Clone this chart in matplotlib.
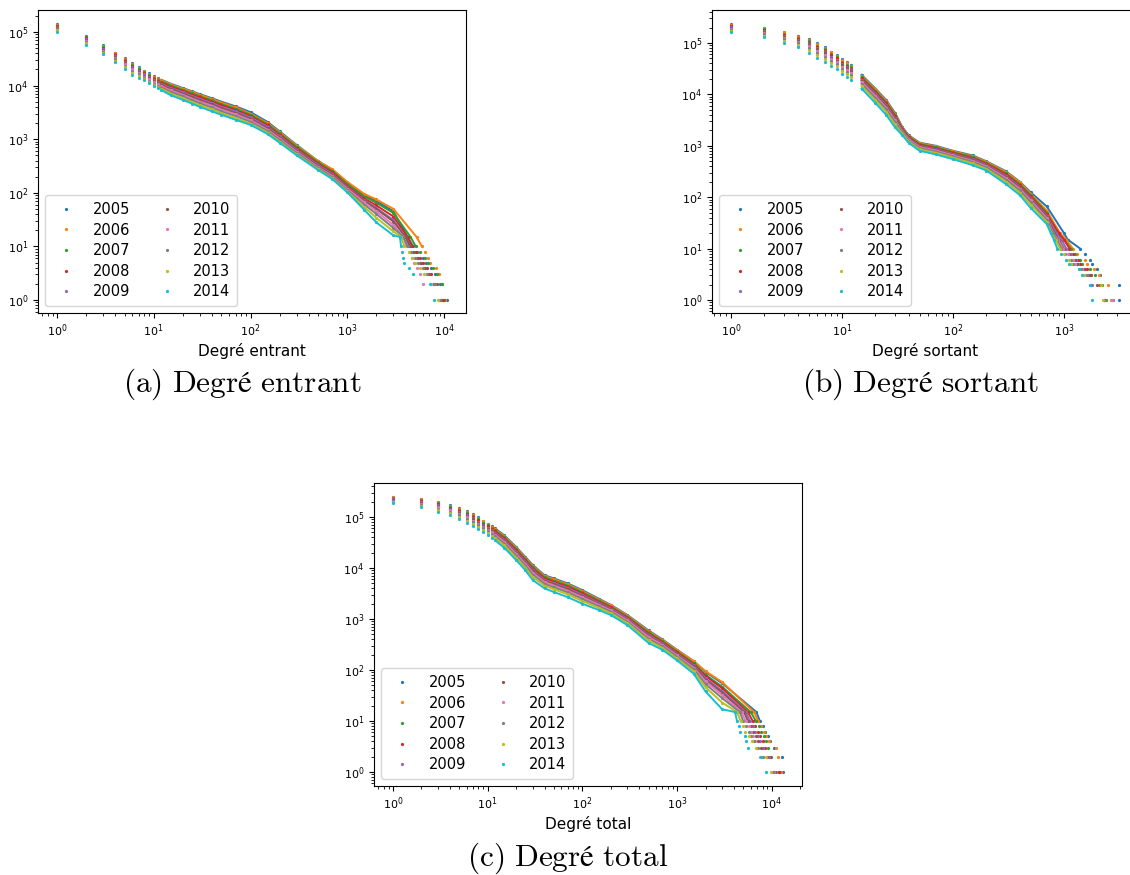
import numpy as np
import matplotlib
matplotlib.use("Agg")
import matplotlib.pyplot as plt

# ─────────────────────────────────────────────
# Data (CCDF per year)
# ─────────────────────────────────────────────
YEARS = [2005, 2006, 2007, 2008, 2009, 2010, 2011, 2012, 2013, 2014]
COLORS = ["#1f77b4", "#ff7f0e", "#2ca02c", "#d62728", "#9467bd",
          "#8c564b", "#e377c2", "#7f7f7f", "#bcbd22", "#17becf"]

# (a) in-degree
IN_DEG = [1, 2, 3, 4, 5, 6, 7, 8, 9, 10, 11, 12, 15, 20, 25, 30, 40, 50,
          70, 100, 150, 200, 300, 500, 700, 1000, 1500, 2000, 3000]
IN_COUNTS = [
    [140000, 84000, 56000, 41000, 32000, 26000, 22000, 19000, 17000, 15000, 13800, 12800, 10800, 9000, 7800, 6900, 5800, 5000, 4100, 3200, 2100, 1400, 780, 390, 270, 155, 90, 70, 45],
    [136000, 82000, 55000, 40000, 31000, 25500, 21500, 18600, 16500, 14700, 13500, 12500, 10500, 8800, 7600, 6700, 5600, 4800, 3900, 3000, 2000, 1350, 760, 390, 275, 160, 95, 75, 50],
    [132000, 79000, 53000, 38500, 30000, 24500, 20500, 17800, 15800, 14000, 12900, 11900, 10000, 8300, 7200, 6300, 5300, 4500, 3700, 2850, 1900, 1280, 720, 370, 255, 145, 85, 65, 42],
    [128000, 76000, 51000, 37000, 28500, 23200, 19500, 16900, 15000, 13300, 12200, 11300, 9500, 7900, 6800, 6000, 5000, 4300, 3500, 2700, 1800, 1200, 680, 350, 240, 135, 78, 58, 36],
    [124000, 73000, 49000, 35500, 27300, 22000, 18600, 16100, 14300, 12700, 11600, 10700, 9000, 7500, 6400, 5600, 4700, 4000, 3300, 2550, 1700, 1130, 640, 330, 225, 127, 72, 52, 31],
    [120000, 70000, 47000, 34000, 26000, 21000, 17800, 15300, 13600, 12100, 11000, 10200, 8600, 7100, 6100, 5300, 4450, 3800, 3100, 2400, 1600, 1070, 610, 315, 215, 122, 70, 50, 29],
    [116000, 67500, 45000, 32500, 24800, 20000, 17000, 14600, 13000, 11500, 10500, 9700, 8100, 6700, 5700, 5000, 4200, 3550, 2900, 2250, 1500, 1020, 580, 300, 205, 118, 66, 45, 25],
    [112000, 65000, 43000, 31000, 23500, 19000, 16100, 13900, 12300, 10900, 9900, 9200, 7600, 6300, 5300, 4650, 3900, 3300, 2700, 2100, 1420, 960, 550, 290, 195, 112, 60, 40, 22],
    [107000, 61500, 40500, 29000, 21800, 17500, 15000, 13100, 11600, 10400, 9400, 8700, 7100, 5800, 4900, 4300, 3600, 3050, 2500, 1950, 1330, 900, 520, 275, 185, 106, 54, 34, 19],
    [102000, 58000, 38000, 27000, 20000, 16000, 14000, 12500, 11000, 10000, 9000, 8200, 6600, 5400, 4600, 4000, 3300, 2850, 2300, 1850, 1250, 860, 500, 265, 180, 102, 48, 28, 16],
]
IN_TAIL_LEVELS = [1, 2, 3, 4, 5, 6, 8, 10, 15]
IN_TAIL_DEG = [
    [10700, 9000, 8000, 7300, 6500, 6000, 5300, 4800, 4200],
    [10300, 9500, 8900, 8300, 7200, 6900, 6400, 5900, 5200],
    [10000, 9600, 8400, 7600, 6800, 6300, 5600, 5100, 4500],
    [9700, 8100, 7300, 6700, 6100, 5700, 5100, 4700, 4200],
    [9200, 7700, 6800, 6200, 5700, 5300, 4800, 4400, 4000],
    [9400, 8500, 7000, 6400, 5800, 5400, 4900, 4500, 4000],
    [8800, 6000, 5600, 5200, 4900, 4700, 4400, 4100, 3800],
    [9000, 8000, 6600, 6000, 5400, 5000, 4600, 4200, 3800],
    [8600, 7400, 6200, 5600, 5000, 4700, 4300, 3900, 3600],
    [7800, 7100, 4800, 4300, 3900, 3800, 3700, 3600, 3500],
]

# (b) out-degree
OUT_DEG = [1, 2, 3, 4, 5, 6, 7, 8, 9, 10, 11, 12, 15, 20, 25, 30, 35, 40,
           50, 70, 100, 150, 200, 300, 400, 500, 700]
OUT_COUNTS = [
    [230000, 200000, 166000, 138000, 118000, 98000, 83000, 68000, 59000, 48000, 42000, 37000, 24000, 13000, 7800, 4400, 2300, 1600, 1150, 1000, 800, 650, 500, 320, 200, 125, 66],
    [225000, 194000, 160500, 133600, 113800, 94300, 79800, 65400, 56800, 46200, 40400, 35600, 23100, 12500, 7500, 4200, 2250, 1560, 1120, 975, 780, 630, 490, 310, 195, 118, 55],
    [217000, 186000, 152400, 127000, 107400, 88800, 75000, 61600, 53400, 43400, 38000, 33400, 21800, 11800, 7000, 4000, 2160, 1500, 1080, 935, 750, 605, 465, 290, 180, 110, 50],
    [210500, 178700, 145600, 121500, 102100, 84200, 71000, 58400, 50600, 41100, 36000, 31600, 20700, 11100, 6700, 3800, 2090, 1460, 1045, 905, 725, 580, 450, 280, 170, 104, 47],
    [203000, 170000, 137400, 114900, 95700, 78700, 66200, 54600, 47200, 38300, 33600, 29400, 19400, 10400, 6200, 3500, 2010, 1400, 1000, 865, 695, 555, 430, 260, 160, 97, 44],
    [197500, 164500, 132000, 110500, 91500, 75000, 63000, 52000, 45000, 36500, 32000, 28000, 18500, 9900, 5900, 3350, 1950, 1370, 975, 840, 675, 535, 415, 250, 155, 93, 42],
    [191000, 157400, 125200, 105000, 86200, 70400, 59000, 48800, 42200, 34200, 30000, 26200, 17400, 9300, 5500, 3150, 1880, 1320, 940, 810, 650, 510, 400, 235, 145, 87, 39],
    [183000, 149000, 117000, 98400, 79800, 64900, 54200, 45000, 38800, 31400, 27600, 24000, 16100, 8500, 5100, 2900, 1800, 1260, 900, 770, 620, 485, 380, 220, 135, 80, 36],
    [175000, 139600, 108200, 91300, 73000, 58900, 49000, 40800, 35200, 28500, 25000, 21700, 14700, 7700, 4600, 2600, 1700, 1200, 850, 730, 590, 455, 355, 200, 122, 72, 33],
    [165000, 129000, 98000, 83000, 65000, 52000, 43000, 36000, 31000, 25000, 22000, 19000, 13000, 6800, 4000, 2300, 1600, 1130, 800, 680, 550, 420, 330, 180, 110, 62, 30],
]
OUT_TAIL_LEVELS = [1, 2, 3, 4, 5, 6, 8, 10, 15, 20]
OUT_TAIL_DEG = [
    [3150, 3100, 2100, 1970, 1800, 1700, 1550, 1400, 1080, 1000],
    [2650, 2500, 2050, 1850, 1600, 1550, 1300, 1200, 1050, 920],
    [2400, 2200, 1900, 1700, 1450, 1400, 1250, 1150, 1000, 880],
    [2300, 2100, 1750, 1600, 1400, 1350, 1200, 1120, 1000, 900],
    [2750, 1800, 1650, 1500, 1350, 1280, 1150, 1050, 950, 850],
    [2300, 2000, 1700, 1550, 1300, 1250, 1100, 1000, 900, 820],
    [2700, 1700, 1550, 1450, 1250, 1200, 1080, 980, 880, 800],
    [2350, 1750, 1600, 1420, 1200, 1150, 1030, 950, 860, 790],
    [2250, 2150, 1500, 1380, 1150, 1100, 1000, 920, 840, 770],
    [1780, 1700, 1440, 1380, 1100, 1050, 950, 870, 810, 760],
]

# (c) total degree
TOT_DEG = [1, 2, 3, 4, 5, 6, 7, 8, 9, 10, 11, 12, 15, 20, 25, 30, 40, 50,
           70, 100, 150, 200, 300, 500, 700, 1000, 1500, 2000, 3000]
TOT_COUNTS = [
    [250000, 230000, 200000, 173000, 152000, 133000, 115000, 99000, 85000, 75000, 67000, 60000, 44000, 26000, 16600, 11500, 7200, 6300, 5000, 3700, 2500, 1900, 1200, 600, 400, 250, 150, 92, 55],
    [244900, 224000, 194200, 168000, 147100, 128400, 111100, 95700, 82300, 72500, 64800, 58000, 42500, 25100, 16000, 11000, 6950, 6050, 4800, 3560, 2420, 1850, 1170, 580, 390, 245, 150, 95, 58],
    [237200, 215000, 185400, 160400, 139800, 121600, 105200, 90800, 78200, 68800, 61400, 55000, 40200, 23700, 15100, 10400, 6550, 5700, 4550, 3360, 2300, 1760, 1110, 550, 370, 231, 137, 81, 47],
    [230800, 207500, 178100, 154100, 133700, 115900, 100300, 86700, 74800, 65700, 58600, 52500, 38300, 22500, 14350, 9800, 6250, 5400, 4300, 3190, 2200, 1690, 1070, 520, 355, 222, 130, 76, 44],
    [223100, 198500, 169300, 146500, 126400, 109100, 94400, 81800, 70700, 62000, 55200, 49500, 36000, 21100, 13450, 9100, 5850, 5100, 4050, 2990, 2080, 1610, 1020, 490, 337, 210, 123, 69, 39],
    [218000, 192500, 163500, 141500, 121500, 104500, 90500, 78500, 68000, 59500, 53000, 47500, 34500, 20200, 12850, 8650, 5600, 4850, 3850, 2850, 2000, 1550, 980, 470, 325, 202, 118, 65, 36],
    [211600, 185000, 156200, 135200, 115400, 98800, 85600, 74400, 64600, 56400, 50200, 45000, 32600, 19000, 12100, 8100, 5300, 4550, 3600, 2680, 1900, 1480, 940, 445, 310, 193, 111, 60, 32],
    [203900, 176000, 147400, 127600, 108100, 92000, 79700, 69500, 60500, 52700, 46800, 42000, 30300, 17600, 11200, 7400, 4900, 4200, 3350, 2480, 1780, 1400, 880, 410, 292, 182, 103, 53, 28],
    [195600, 166250, 138000, 119500, 100200, 84600, 73400, 64200, 56100, 48700, 43200, 38750, 27850, 16100, 10200, 6650, 4500, 3850, 3050, 2260, 1650, 1300, 830, 380, 272, 169, 95, 46, 23],
    [186000, 155000, 127000, 110000, 91000, 76000, 66000, 58000, 51000, 44000, 39000, 35000, 25000, 14400, 9100, 5800, 4000, 3400, 2700, 2000, 1500, 1200, 760, 340, 250, 155, 85, 38, 17],
]
TOT_TAIL_LEVELS = [1, 2, 3, 4, 5, 6, 8, 10, 15]
TOT_TAIL_DEG = [
    [13200, 12700, 10500, 9600, 9100, 8500, 8100, 7500, 6900],
    [12500, 11700, 11000, 9300, 8800, 8200, 7800, 7200, 6500],
    [12000, 9800, 9200, 8700, 8200, 7700, 7300, 6800, 6000],
    [11800, 9500, 8600, 8000, 7600, 7100, 6700, 6300, 5600],
    [11200, 9300, 8100, 7500, 7100, 6700, 6300, 5900, 5300],
    [10800, 9000, 7800, 7200, 6800, 6400, 6000, 5600, 5100],
    [10500, 7500, 7000, 6700, 6400, 6000, 5700, 5300, 4800],
    [10200, 8000, 7200, 6500, 6100, 5700, 5400, 5000, 4600],
    [9800, 8700, 6900, 6200, 5800, 5200, 5000, 4700, 4300],
    [8800, 7800, 5600, 5400, 5200, 4600, 4500, 4300, 4100],
]


def draw_panel(ax, deg, counts, tail_levels, tail_deg, line_from,
               xlim, ylim, xlabel):
    for i, year in enumerate(YEARS):
        x = np.concatenate([deg, tail_deg[i]]).astype(float)
        y = np.concatenate([counts[i], tail_levels]).astype(float)
        order = np.argsort(x, kind="stable")
        x, y = x[order], y[order]
        # dense part of the distribution: the points merge into a line
        dense = (x >= line_from) & (y >= 10)
        ax.plot(x[dense], y[dense], "-", color=COLORS[i], lw=1.4)
        ax.plot(x, y, ".", ms=2.6, color=COLORS[i], label=str(year))

    ax.set_xscale("log")
    ax.set_yscale("log")
    ax.set_xlim(10 ** xlim[0], 10 ** xlim[1])
    ax.set_ylim(10 ** ylim[0], 10 ** ylim[1])
    ax.tick_params(labelsize=8)
    ax.set_xlabel(xlabel, fontsize=11, labelpad=3)
    ax.legend(loc="lower left", ncol=2, fontsize=10.5, labelspacing=0.38,
              handletextpad=0.8, borderpad=0.45, columnspacing=1.5)


plt.rcParams["mathtext.fontset"] = "cm"

fig = plt.figure(figsize=(11.3, 8.75), dpi=100)
W, H = 1130.0, 875.0


def px_axes(left, top, right, bottom):
    return fig.add_axes([left / W, 1 - bottom / H,
                         (right - left) / W, (bottom - top) / H])


ax_a = px_axes(38, 10, 466, 313)
ax_b = px_axes(712, 10, 1139, 313)
ax_c = px_axes(374, 483, 802, 786)

draw_panel(ax_a, IN_DEG, IN_COUNTS, IN_TAIL_LEVELS, IN_TAIL_DEG, 12,
           (-0.196, 4.227), (-0.243, 5.41), "Degré entrant")
draw_panel(ax_b, OUT_DEG, OUT_COUNTS, OUT_TAIL_LEVELS, OUT_TAIL_DEG, 15,
           (-0.171, 3.676), (-0.253, 5.642), "Degré sortant")
draw_panel(ax_c, TOT_DEG, TOT_COUNTS, TOT_TAIL_LEVELS, TOT_TAIL_DEG, 12,
           (-0.2, 4.32), (-0.275, 5.67), "Degré total")

cap_kw = dict(ha="center", va="center", fontsize=22.5)
fig.text(242 / W, 1 - 384 / H, r"$\mathrm{(a)\ Degré\ entrant}$", **cap_kw)
fig.text(920 / W, 1 - 384 / H, r"$\mathrm{(b)\ Degré\ sortant}$", **cap_kw)
fig.text(568 / W, 1 - 858 / H, r"$\mathrm{(c)\ Degré\ total}$", **cap_kw)

fig.savefig("out.png", dpi=100)
